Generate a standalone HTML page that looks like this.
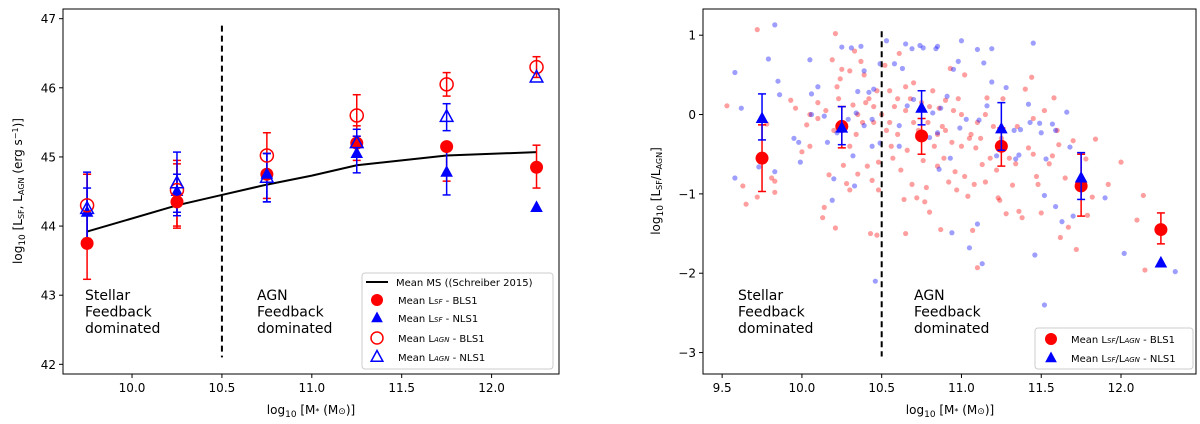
<!DOCTYPE html>
<html><head><meta charset="utf-8">
<style>
body{margin:0;background:#fff;}
svg{display:block;font-family:"DejaVu Sans","Liberation Sans",sans-serif;}
</style></head>
<body>
<svg id="fig" width="1200" height="424" viewBox="0 0 1200 424" xmlns="http://www.w3.org/2000/svg"></svg>
<script>
// ---------- Left panel data ----------
const leftMass = [9.75, 10.25, 10.75, 11.25, 11.75, 12.25];
const msMass = [9.75, 10.25, 10.5, 10.75, 11.0, 11.25, 11.5, 11.75, 12.25];
const msLum = [43.92, 44.3, 44.45, 44.6, 44.73, 44.88, 44.95, 45.02, 45.07];
const lsfBLS1 = [43.75, 44.35, 44.75, 45.2, 45.15, 44.85];
const lsfBLS1Lo = [43.23, 43.97, 44.4, 44.95, 44.65, 44.55];
const lsfBLS1Hi = [44.75, 44.95, 45.05, 45.45, 45.2, 45.17];
const lsfNLS1 = [44.2, 44.5, 44.75, 45.05, 44.78, 44.27];
const lsfNLS1Lo = [43.77, 44.15, 44.35, 44.77, 44.45, null];
const lsfNLS1Hi = [44.55, 44.75, 45.05, 45.3, 45.12, null];
const lagnBLS1 = [44.3, 44.52, 45.02, 45.6, 46.05, 46.3];
const lagnBLS1Lo = [43.82, 44.0, 44.7, 45.3, 45.88, 46.15];
const lagnBLS1Hi = [44.75, 44.9, 45.35, 45.9, 46.22, 46.45];
const lagnNLS1 = [44.25, 44.62, 44.7, 45.2, 45.58, 46.15];
const lagnNLS1Lo = [43.8, 44.2, 44.35, 45.0, 45.38, null];
const lagnNLS1Hi = [44.78, 45.07, 45.05, 45.4, 45.77, null];
const leftXTicks = [10.0, 10.5, 11.0, 11.5, 12.0];
const leftXTickLabels = ["10.0", "10.5", "11.0", "11.5", "12.0"];
const leftYTicks = [42, 43, 44, 45, 46, 47];
const leftYTickLabels = ["42", "43", "44", "45", "46", "47"];

// ---------- Right panel data ----------
const ratioBLS1 = [-0.55, -0.15, -0.27, -0.4, -0.9, -1.45];
const ratioBLS1Lo = [-0.97, -0.42, -0.5, -0.65, -1.28, -1.63];
const ratioBLS1Hi = [-0.13, 0.1, -0.05, -0.17, -0.5, -1.24];
const ratioNLS1 = [-0.05, -0.17, 0.08, -0.18, -0.8, -1.87];
const ratioNLS1Lo = [-0.32, -0.38, -0.13, -0.45, -1.07, null];
const ratioNLS1Hi = [0.26, 0.1, 0.3, 0.15, -0.48, null];
const rightXTicks = [9.5, 10.0, 10.5, 11.0, 11.5, 12.0];
const rightXTickLabels = ["9.5", "10.0", "10.5", "11.0", "11.5", "12.0"];
const rightYTicks = [-3, -2, -1, 0, 1];
const rightYTickLabels = ["\u22123", "\u22122", "\u22121", "0", "1"];
const blueMass = [9.58,9.62,9.58,9.83,9.79,9.85,9.86,9.83,9.73,9.95,9.98,9.99,10.05,10.06,10.1,10.06,10.14,10.19,10.2,10.25,10.31,10.37,10.39,10.35,10.42,10.45,10.33,10.49,10.46,10.53,10.58,10.63,10.65,10.69,10.74,10.76,10.84,10.85,10.91,10.95,11.0,10.98,11.1,11.19,11.14,11.19,11.28,11.45,11.42,11.5,11.53,11.52,11.59,11.66,11.63,11.7,11.9,12.02,12.34,11.52,11.46,11.13,11.1,11.05,10.94,10.93,10.86,10.8,10.85,10.99,11.03,11.11,11.16,11.33,11.37,11.43,11.49,11.57,11.59,11.68,11.36,11.34,11.22,10.44,10.49,10.61,10.66,10.7,10.75,10.82,10.87,10.61,10.32,10.22,10.16,10.29,10.34,10.39,10.44];
const blueRatio = [0.53,0.08,-0.8,1.13,0.7,0.42,0.25,-0.72,-0.66,-0.3,-0.35,-0.6,0.69,0.26,0.35,0.0,-0.02,-1.08,-0.81,0.85,0.84,0.86,0.55,0.29,0.28,0.32,-0.9,0.64,-2.1,0.93,0.64,0.58,0.89,0.83,0.87,0.84,0.83,0.86,0.23,0.57,0.93,0.67,0.82,0.83,0.65,0.41,0.34,0.9,0.13,-0.23,-0.56,-1.02,-1.16,0.03,-1.35,-1.28,-1.05,-1.75,-1.98,-2.4,-1.77,-1.88,-1.38,-1.68,-1.49,-0.55,-0.69,-0.29,-0.23,-0.17,-0.06,-0.07,0.11,-0.2,-0.19,-0.1,-0.11,-0.12,-0.2,-0.41,-0.51,-0.56,-0.52,-0.4,-0.36,-0.14,0.11,0.19,0.07,0.02,0.08,-0.4,-0.52,-0.23,-0.35,-0.06,0.02,-0.14,-0.06];
const redMass = [9.53,9.63,9.65,9.72,9.72,9.78,9.81,9.83,9.83,9.93,9.96,10.0,10.03,10.05,10.1,10.13,10.14,10.17,10.19,10.21,10.21,10.22,10.23,10.24,10.25,10.26,10.28,10.3,10.3,10.32,10.33,10.34,10.35,10.37,10.38,10.39,10.41,10.42,10.43,10.44,10.45,10.47,10.47,10.48,10.48,10.5,10.52,10.53,10.55,10.56,10.57,10.58,10.6,10.61,10.62,10.64,10.65,10.65,10.66,10.68,10.69,10.7,10.72,10.73,10.74,10.76,10.77,10.78,10.79,10.8,10.82,10.83,10.85,10.86,10.87,10.88,10.89,10.9,10.92,10.93,10.94,10.96,10.97,10.98,11.0,11.02,11.02,11.04,11.06,11.07,11.08,11.09,11.1,11.12,11.13,11.15,11.16,11.18,11.2,11.22,11.23,11.24,11.26,11.28,11.3,11.32,11.34,11.36,11.38,11.4,11.42,11.44,11.45,11.47,11.48,11.5,11.52,11.55,11.57,11.58,11.6,11.61,11.62,11.65,11.67,11.7,11.72,11.78,11.79,11.82,11.84,11.92,12.1,12.14,12.15,12.0,10.45,10.6,10.7,10.8,10.9,11.0,11.1,10.55,10.65,10.75,10.85,10.95,11.05,11.15,11.25,11.35,11.45,10.15,10.2,10.35,10.4,10.3,10.1,10.05];
const redRatio = [0.11,-0.9,-1.13,-1.04,1.07,-0.12,-0.8,-0.84,-0.98,0.18,0.08,-0.47,-0.13,0.0,-0.05,-1.3,-1.17,-0.76,0.69,1.02,-1.43,0.35,0.2,0.45,0.57,-0.64,-0.87,0.55,-0.95,0.12,0.8,-0.25,-0.75,0.67,-0.1,0.5,-0.65,0.2,-1.5,-0.83,-0.1,0.3,-1.52,-0.95,-0.6,0.0,0.62,-0.2,0.3,-0.4,-0.55,0.1,-0.25,0.77,-0.7,-1.07,-1.5,0.35,-0.45,0.2,-0.88,0.4,-1.05,-0.2,-0.3,-0.58,-1.1,-0.92,-0.1,-1.23,0.3,-0.4,-0.65,0.08,-1.45,-0.15,-0.55,0.18,-0.85,0.58,-0.35,-0.72,-0.95,0.2,-0.4,-0.78,0.5,-1.03,-0.25,-1.46,-0.88,-0.42,-1.93,-0.3,-0.63,-0.85,0.21,-0.55,-0.15,-0.7,-1.05,-1.08,0.2,-1.25,-0.55,-0.89,-0.62,-1.22,-1.3,0.32,-0.42,0.47,-0.5,-0.78,-0.88,-1.24,0.05,-0.62,-0.52,0.21,-0.2,-0.38,-1.55,-0.8,-1.42,-0.33,-1.7,-0.56,-1.27,-1.04,-0.31,-0.88,-1.33,-1.02,-1.96,-0.6,0.1,0.2,-0.1,0.1,-0.2,0.0,-0.1,-0.1,0.05,0.15,-0.25,0.05,-0.3,0.0,-0.3,-0.15,-0.05,0.05,-0.2,0.0,0.15,-0.4,0.15,-0.4];

const NS = "http://www.w3.org/2000/svg";
const svg = document.getElementById('fig');
function mk(tag, attrs, parent) {
  const e = document.createElementNS(NS, tag);
  for (const k in attrs) e.setAttribute(k, attrs[k]);
  (parent || svg).appendChild(e);
  return e;
}
function axis(x0, x1, y0, y1, px0, px1, py0, py1) {
  return {
    x: v => px0 + (v - x0) / (x1 - x0) * (px1 - px0),
    y: v => py1 - (v - y0) / (y1 - y0) * (py1 - py0)
  };
}
// Left: x 9.616..12.375 -> 63..559 ; y 41.86..47.14 -> 374..9
const L = axis(9.616, 12.375, 41.86, 47.14, 63, 559, 9, 374);
// Right: x 9.38..12.47 -> 703..1196 ; y -3.27..1.33 -> 374..9
const R = axis(9.38, 12.47, -3.27, 1.33, 703, 1196, 9, 374);

function frame(g, A, box, xt, xl, yt, yl, name) {
  const r = mk('rect', {x: box[0], y: box[1], width: box[2]-box[0], height: box[3]-box[1], fill: 'none', stroke: '#000', 'stroke-width': 1}, g);
  
  
  xt.forEach((v, i) => {
    const px = A.x(v);
    mk('line', {x1: px, x2: px, y1: box[3], y2: box[3]+4, stroke: '#000'}, g);
    const t = mk('text', {x: px, y: box[3]+18, 'text-anchor': 'middle', 'font-size': 12}, g);
    t.textContent = xl[i];
    
    
  });
  yt.forEach((v, i) => {
    const py = A.y(v);
    mk('line', {x1: box[0]-4, x2: box[0], y1: py, y2: py, stroke: '#000'}, g);
    const t = mk('text', {x: box[0]-7, y: py+4.5, 'text-anchor': 'end', 'font-size': 12}, g);
    t.textContent = yl[i];
    
    
  });
}
function circle(g, cx, cy, r, filled, color) {
  return mk('circle', {cx, cy, r, fill: filled ? color : 'none', stroke: color, 'stroke-width': filled ? 0 : 1.5}, g);
}
function tri(g, cx, cy, s, filled, color) {
  const p = `${cx},${cy-s} ${cx-s*0.9},${cy+s*0.65} ${cx+s*0.9},${cy+s*0.65}`;
  return mk('polygon', {points: p, fill: filled ? color : 'none', stroke: color, 'stroke-width': filled ? 0 : 1.5}, g);
}
function errbar(g, A, x, lo, hi, color) {
  if (lo === null) return;
  const px = A.x(x), a = A.y(lo), b = A.y(hi);
  mk('line', {x1: px, x2: px, y1: a, y2: b, stroke: color, 'stroke-width': 1.5}, g);
  mk('line', {x1: px-4, x2: px+4, y1: a, y2: a, stroke: color, 'stroke-width': 1.5}, g);
  mk('line', {x1: px-4, x2: px+4, y1: b, y2: b, stroke: color, 'stroke-width': 1.5}, g);
}
function label(g, x, y, lines, name) {
  const t = mk('text', {x, y, 'font-size': 14}, g);
  lines.forEach((s, i) => { const ts = mk('tspan', {x, dy: i ? 16.5 : 0}, t); ts.textContent = s; });
  
  
}

// ===== LEFT PANEL =====
const gl = mk('g', {});


frame(gl, L, [63, 9, 559, 374], leftXTicks, leftXTickLabels, leftYTicks, leftYTickLabels, 'left');
const dl = mk('line', {x1: L.x(10.5), x2: L.x(10.5), y1: L.y(46.9), y2: L.y(42.1), stroke: '#000', 'stroke-width': 2, 'stroke-dasharray': '6,4'}, gl);


const msPath = mk('polyline', {points: msMass.map((m, i) => L.x(m) + ',' + L.y(msLum[i])).join(' '), fill: 'none', stroke: '#000', 'stroke-width': 2}, gl);


leftMass.forEach((m, i) => {
  errbar(gl, L, m, lsfBLS1Lo[i], lsfBLS1Hi[i], '#f00');
  errbar(gl, L, m, lagnBLS1Lo[i], lagnBLS1Hi[i], '#f00');
  errbar(gl, L, m, lsfNLS1Lo[i], lsfNLS1Hi[i], '#00f');
  errbar(gl, L, m, lagnNLS1Lo[i], lagnNLS1Hi[i], '#00f');
});
leftMass.forEach((m, i) => {
  const a = circle(gl, L.x(m), L.y(lsfBLS1[i]), 6.5, true, '#f00');
  
  
  const b = tri(gl, L.x(m), L.y(lsfNLS1[i]), 7, true, '#00f');
  
  
  const c = circle(gl, L.x(m), L.y(lagnBLS1[i]), 6.5, false, '#f00');
  
  
  const d = tri(gl, L.x(m), L.y(lagnNLS1[i]), 7, false, '#00f');
  
  
});
label(gl, 85, 300, ['Stellar', 'Feedback', 'dominated'], 'stellar-feedback-label');
label(gl, 257, 300, ['AGN', 'Feedback', 'dominated'], 'agn-feedback-label');
const lxt = mk('text', {x: 311, y: 414, 'text-anchor': 'middle', 'font-size': 12}, gl);
lxt.innerHTML = 'log<tspan font-size="9" dy="3">10</tspan><tspan dy="-3"> [M</tspan><tspan font-size="8">*</tspan> (M<tspan font-size="9">\u2299</tspan>)]';


const lyt = mk('text', {x: 0, y: 0, 'text-anchor': 'middle', 'font-size': 12, transform: 'translate(22,191) rotate(-90)'}, gl);
lyt.innerHTML = 'log<tspan font-size="9" dy="3">10</tspan><tspan dy="-3"> [L</tspan><tspan font-size="8" dy="2">SF</tspan><tspan dy="-2">, L</tspan><tspan font-size="8" dy="2">AGN</tspan><tspan dy="-2"> (erg s</tspan><tspan font-size="8" dy="-4">\u22121</tspan><tspan dy="4">)]</tspan>';


// left legend
const lg = mk('g', {}, gl);


mk('rect', {x: 362, y: 273, width: 191, height: 96, rx: 3, fill: '#fff', 'fill-opacity': 0.85, stroke: '#ccc'}, lg);
mk('line', {x1: 366, x2: 388, y1: 282, y2: 282, stroke: '#000', 'stroke-width': 2}, lg);
circle(lg, 377, 300, 6, true, '#f00');
tri(lg, 377, 318, 6.5, true, '#00f');
circle(lg, 377, 338, 6, false, '#f00');
tri(lg, 377, 357, 6.5, false, '#00f');
const legL = ['Mean MS ((Schreiber 2015)', 'Mean L<tspan font-size="7" font-style="italic">SF</tspan> - BLS1', 'Mean L<tspan font-size="7" font-style="italic">SF</tspan> - NLS1', 'Mean L<tspan font-size="7" font-style="italic">AGN</tspan> - BLS1', 'Mean L<tspan font-size="7" font-style="italic">AGN</tspan> - NLS1'];
const legLy = [286, 304, 322, 342, 361];
legL.forEach((s, i) => {
  const t = mk('text', {x: i ? 398 : 396, y: legLy[i], 'font-size': 10}, lg);
  t.innerHTML = s;
  
  
});

// ===== RIGHT PANEL =====
const gr = mk('g', {});


frame(gr, R, [703, 9, 1196, 374], rightXTicks, rightXTickLabels, rightYTicks, rightYTickLabels, 'right');
redMass.forEach((m, i) => {
  const c = mk('circle', {cx: R.x(m), cy: R.y(redRatio[i]), r: 2.6, fill: '#f00', 'fill-opacity': 0.38}, gr);
  
  
});
blueMass.forEach((m, i) => {
  const c = mk('circle', {cx: R.x(m), cy: R.y(blueRatio[i]), r: 2.6, fill: '#00f', 'fill-opacity': 0.38}, gr);
  
  
});
const dr = mk('line', {x1: R.x(10.5), x2: R.x(10.5), y1: R.y(1.05), y2: R.y(-3.05), stroke: '#000', 'stroke-width': 2, 'stroke-dasharray': '6,4'}, gr);


leftMass.forEach((m, i) => {
  errbar(gr, R, m, ratioBLS1Lo[i], ratioBLS1Hi[i], '#f00');
  const a = circle(gr, R.x(m), R.y(ratioBLS1[i]), 6.5, true, '#f00');
  
  
  errbar(gr, R, m, ratioNLS1Lo[i], ratioNLS1Hi[i], '#00f');
  const b = tri(gr, R.x(m), R.y(ratioNLS1[i]), 7, true, '#00f');
  
  
});
label(gr, 738, 300, ['Stellar', 'Feedback', 'dominated'], 'right-stellar-feedback-label');
label(gr, 914, 300, ['AGN', 'Feedback', 'dominated'], 'right-agn-feedback-label');
const rxt = mk('text', {x: 950, y: 414, 'text-anchor': 'middle', 'font-size': 12}, gr);
rxt.innerHTML = 'log<tspan font-size="9" dy="3">10</tspan><tspan dy="-3"> [M</tspan><tspan font-size="8">*</tspan> (M<tspan font-size="9">\u2299</tspan>)]';


const ryt = mk('text', {x: 0, y: 0, 'text-anchor': 'middle', 'font-size': 12, transform: 'translate(660,191) rotate(-90)'}, gr);
ryt.innerHTML = 'log<tspan font-size="9" dy="3">10</tspan><tspan dy="-3"> [L</tspan><tspan font-size="8" dy="2">SF</tspan><tspan dy="-2">/L</tspan><tspan font-size="8" dy="2">AGN</tspan><tspan dy="-2">]</tspan>';


const rg = mk('g', {}, gr);


mk('rect', {x: 1035, y: 328, width: 158, height: 41, rx: 3, fill: '#fff', 'fill-opacity': 0.85, stroke: '#ccc'}, rg);
circle(rg, 1051, 339, 6, true, '#f00');
tri(rg, 1051, 358, 6.5, true, '#00f');
const legR = ['Mean L<tspan font-size="7" font-style="italic">SF</tspan>/L<tspan font-size="7" font-style="italic">AGN</tspan> - BLS1', 'Mean L<tspan font-size="7" font-style="italic">SF</tspan>/L<tspan font-size="7" font-style="italic">AGN</tspan> - NLS1'];
[343, 362].forEach((y, i) => {
  const t = mk('text', {x: 1071, y, 'font-size': 10}, rg);
  t.innerHTML = legR[i];
  
  
});
</script>
</body></html>
